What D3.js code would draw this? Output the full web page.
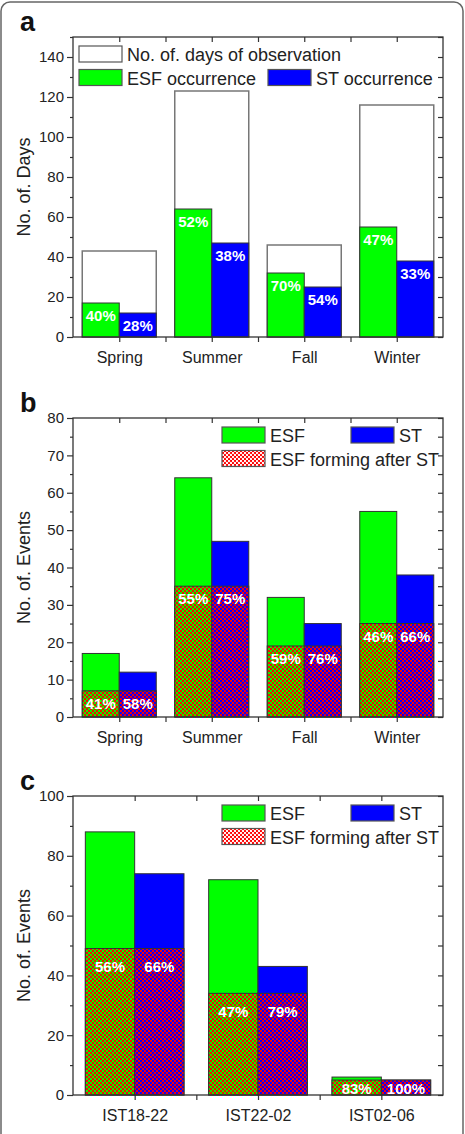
<!DOCTYPE html>
<html>
<head>
<meta charset="utf-8">
<script src="https://cdn.jsdelivr.net/npm/d3@7"></script>
<style>
  body { margin: 0; background: #fff }
  svg { display: block; font-family: "Liberation Sans", Arial, sans-serif }
</style>
</head>
<body>
<script>
// panel a: days per season
const seasons = ["Spring", "Summer", "Fall", "Winter"]
const obsDays = [43, 123, 46, 116]
const esfDays = [17, 64, 32, 55]
const stDays = [12, 47, 25, 38]
const esfDaysPct = [40, 52, 70, 47]
const stDaysPct = [28, 38, 54, 33]

// panel b: events per season
const esfEvents = [17, 64, 32, 55]
const stEvents = [12, 47, 25, 38]
const esfAfterSt = [7, 35, 19, 25]
const esfEventsPct = [41, 55, 59, 46]
const stEventsPct = [58, 75, 76, 66]

// panel c: events per time of night
const timeBins = ["IST18-22", "IST22-02", "IST02-06"]
const esfNight = [88, 72, 6]
const stNight = [74, 43, 5]
const esfAfterStNight = [49, 34, 5]
const esfNightPct = [56, 47, 83]
const stNightPct = [66, 79, 100]

const green = "#00ff00"
const blue = "#0000ff"
const red = "#ff0000"
const ink = "#222"
const left = 73
const right = 443

const svg = d3.select("body").append("svg")
  .attr("width", 465)
  .attr("height", 1134)

// red mesh with dots of the underlying colour
const defs = svg.append("defs")
const hatchFor = { esf: green, st: blue, legend: "#fff" }
Object.entries(hatchFor).forEach(([k, c]) => {
  const pat = defs.append("pattern")
    .attr("id", "hatch-" + k)
    .attr("patternUnits", "userSpaceOnUse")
    .attr("width", 4)
    .attr("height", 4)
  pat.append("rect").attr("width", 4).attr("height", 4).attr("fill", red)
  pat.append("circle").attr("cx", 1).attr("cy", 1).attr("r", 1.15).attr("fill", c)
  pat.append("circle").attr("cx", 3).attr("cy", 3).attr("r", 1.15).attr("fill", c)
})

// outer rounded border of the figure
svg.append("rect")
  .attr("x", 1).attr("y", 2)
  .attr("width", 462).attr("height", 1200)
  .attr("rx", 9)
  .attr("fill", "none")
  .attr("stroke", "#666")
  .attr("stroke-width", 1.5)

function drawPanel(p) {
  const g = svg.append("g")
  const n = p.cats.length

  const x = d3.scaleBand().domain(p.cats).range([left, right])
    .paddingInner(0.2).paddingOuter(0.1)
  const sub = d3.scaleBand().domain(["esf", "st"]).range([0, x.bandwidth()])
  const y = d3.scaleLinear().domain([0, p.yMax]).range([p.bottom, p.top])
  const xTick = d3.scaleLinear().domain([-0.5, n - 0.5]).range([left, right])

  // white observation bars (panel a)
  if (p.total) {
    g.selectAll(null)
      .data(p.total)
      .join("rect")
      .attr("x", (d, i) => x(p.cats[i]))
      .attr("y", d => y(d))
      .attr("width", x.bandwidth())
      .attr("height", d => y(0) - y(d))
      .attr("fill", "#fff")
      .attr("stroke", "#777")
      .attr("stroke-width", 1.5)
  }

  const bars = p.cats.flatMap((c, i) => [
    { cat: c, key: "esf", v: p.esf[i], part: p.esfPart ? p.esfPart[i] : null, pct: p.esfPct[i], color: green },
    { cat: c, key: "st", v: p.st[i], part: p.stPart ? p.stPart[i] : null, pct: p.stPct[i], color: blue }
  ])

  g.selectAll(null)
    .data(bars)
    .join("rect")
    .attr("x", d => x(d.cat) + sub(d.key))
    .attr("y", d => y(d.v))
    .attr("width", sub.bandwidth())
    .attr("height", d => y(0) - y(d.v))
    .attr("fill", d => d.color)
    .attr("stroke", "#333")
    .attr("stroke-width", 1)

  // hatched part: ESF forming after ST
  g.selectAll(null)
    .data(bars.filter(d => d.part != null))
    .join("rect")
    .attr("x", d => x(d.cat) + sub(d.key))
    .attr("y", d => y(d.part))
    .attr("width", sub.bandwidth())
    .attr("height", d => y(0) - y(d.part))
    .attr("fill", d => `url(#hatch-${d.key})`)
    .attr("stroke", "#333")
    .attr("stroke-width", 1)

  // percentage labels
  g.selectAll(null)
    .data(bars)
    .join("text")
    .attr("x", d => x(d.cat) + sub(d.key) + sub.bandwidth() / 2)
    .attr("y", d => Math.min(y(d.part != null ? d.part : d.v) + p.labelOffset, y(0) - 1))
    .attr("text-anchor", "middle")
    .attr("font-size", 15)
    .attr("font-weight", "bold")
    .attr("fill", "#fff")
    .text(d => d.pct + "%")

  // left axis, major + minor ticks outward
  const leftMajor = g.append("g")
    .attr("transform", `translate(${left},0)`)
    .call(d3.axisLeft(y).tickValues(p.major).tickSize(6).tickPadding(3))
  leftMajor.selectAll("text").attr("font-size", 15).attr("fill", ink).attr("font-family", null)
  g.append("g")
    .attr("transform", `translate(${left},0)`)
    .call(d3.axisLeft(y).tickValues(p.minor).tickSize(3).tickFormat(""))

  // right axis, ticks inward
  g.append("g")
    .attr("transform", `translate(${right},0)`)
    .call(d3.axisLeft(y).tickValues(p.major.concat(p.minor)).tickSize(5).tickFormat(""))

  // bottom axis outward, top axis inward
  const catTicks = d3.range(0, n - 0.75, 0.5)
  const bottomAx = g.append("g")
    .attr("transform", `translate(0,${p.bottom})`)
    .call(d3.axisBottom(xTick).tickValues(catTicks).tickSize(5)
      .tickFormat(d => Number.isInteger(d) ? p.cats[d] : ""))
  bottomAx.selectAll("text")
    .attr("y", 26)
    .attr("dy", null)
    .attr("font-size", 16)
    .attr("fill", ink)
    .attr("font-family", null)
  g.append("g")
    .attr("transform", `translate(0,${p.top})`)
    .call(d3.axisBottom(xTick).tickValues(catTicks).tickSize(5).tickFormat(""))

  g.selectAll(".domain").remove()
  g.selectAll(".tick line").attr("stroke", "#333").attr("stroke-width", 1.2)

  // plot frame
  g.append("rect")
    .attr("x", left)
    .attr("y", p.top)
    .attr("width", right - left)
    .attr("height", p.bottom - p.top)
    .attr("fill", "none")
    .attr("stroke", "#333")
    .attr("stroke-width", 1.3)

  // y title
  g.append("text")
    .attr("transform", `translate(30,${(p.top + p.bottom) / 2}) rotate(-90)`)
    .attr("text-anchor", "middle")
    .attr("font-size", 18)
    .attr("fill", ink)
    .text(p.yTitle)

  // panel letter
  g.append("text")
    .attr("x", 20)
    .attr("y", p.top - 6)
    .attr("font-size", 27)
    .attr("font-weight", "bold")
    .attr("fill", "#111")
    .text(p.letter)

  // legend
  const lg = g.append("g")
  lg.selectAll(null)
    .data(p.legend)
    .join("rect")
    .attr("x", d => d.x)
    .attr("y", d => p.top + 9 + d.row * 23.5)
    .attr("width", 43)
    .attr("height", 16)
    .attr("fill", d => d.fill)
    .attr("stroke", "#555")
    .attr("stroke-width", 1.2)
  lg.selectAll(null)
    .data(p.legend)
    .join("text")
    .attr("x", d => d.x + 48)
    .attr("y", d => p.top + 24 + d.row * 23.5)
    .attr("font-size", 18)
    .attr("fill", ink)
    .text(d => d.label)
}

drawPanel({
  letter: "a",
  cats: seasons,
  top: 37,
  bottom: 337,
  yMax: 150,
  major: d3.range(0, 141, 20),
  minor: d3.range(10, 151, 20),
  yTitle: "No. of. Days",
  total: obsDays,
  esf: esfDays,
  st: stDays,
  esfPct: esfDaysPct,
  stPct: stDaysPct,
  labelOffset: 18,
  legend: [
    { x: 79, row: 0, fill: "#fff", label: "No. of. days of observation" },
    { x: 79, row: 1, fill: green, label: "ESF occurrence" },
    { x: 268, row: 1, fill: blue, label: "ST occurrence" }
  ]
})

drawPanel({
  letter: "b",
  cats: seasons,
  top: 418,
  bottom: 717,
  yMax: 80,
  major: d3.range(0, 81, 10),
  minor: d3.range(5, 80, 10),
  yTitle: "No. of. Events",
  esf: esfEvents,
  st: stEvents,
  esfPart: esfAfterSt,
  stPart: esfAfterSt,
  esfPct: esfEventsPct,
  stPct: stEventsPct,
  labelOffset: 18,
  legend: [
    { x: 222, row: 0, fill: green, label: "ESF" },
    { x: 351, row: 0, fill: blue, label: "ST" },
    { x: 222, row: 1, fill: "url(#hatch-legend)", label: "ESF forming after ST" }
  ]
})

drawPanel({
  letter: "c",
  cats: timeBins,
  top: 796,
  bottom: 1095,
  yMax: 100,
  major: d3.range(0, 101, 20),
  minor: d3.range(10, 100, 20),
  yTitle: "No. of. Events",
  esf: esfNight,
  st: stNight,
  esfPart: esfAfterStNight,
  stPart: esfAfterStNight,
  esfPct: esfNightPct,
  stPct: stNightPct,
  labelOffset: 24,
  legend: [
    { x: 222, row: 0, fill: green, label: "ESF" },
    { x: 351, row: 0, fill: blue, label: "ST" },
    { x: 222, row: 1, fill: "url(#hatch-legend)", label: "ESF forming after ST" }
  ]
})
</script>
</body>
</html>
